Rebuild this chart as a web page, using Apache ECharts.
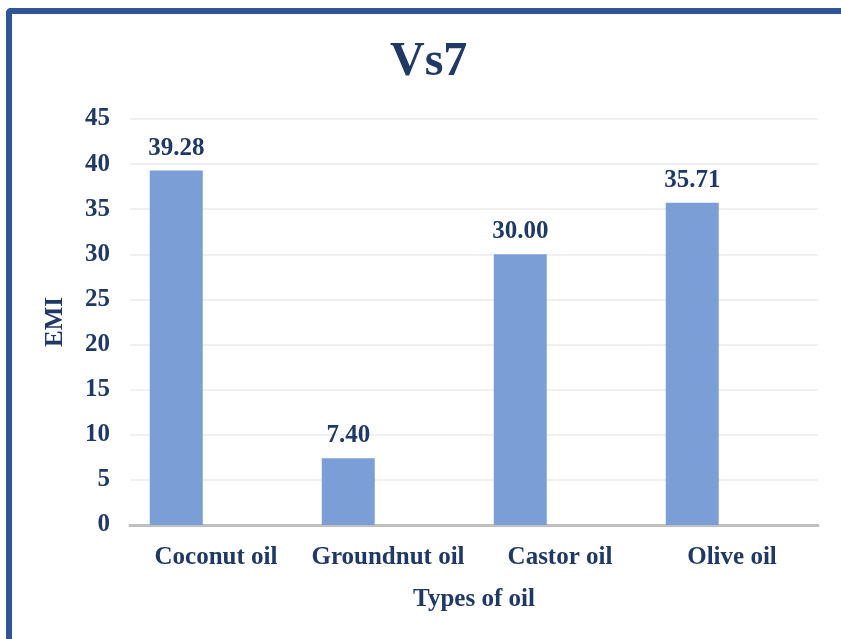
<!DOCTYPE html>
<html>
<head>
<meta charset="utf-8">
<script src="https://cdn.jsdelivr.net/npm/echarts@6/dist/echarts.min.js"></script>
<style>
  html, body { margin: 0; padding: 0; background: #fff; }
  #frame {
    position: absolute; left: 6px; top: 8px; width: 850px; height: 650px;
    border-left: 6px solid #2F5597; border-top: 6px solid #2F5597;
    border-top-left-radius: 5px; box-sizing: border-box;
  }
  #chart { position: absolute; left: 0; top: 0; width: 841px; height: 639px; }
</style>
</head>
<body>
<div id="frame"></div>
<div id="chart"></div>
<script>
// 数据
const oilTypes = ['Coconut oil', 'Groundnut oil', 'Castor oil', 'Olive oil'];
const emiValues = [39.28, 7.40, 30.00, 35.71];
const yTicks = [0, 5, 10, 15, 20, 25, 30, 35, 40, 45];

const navy = '#1F3864';
const serif = '"Liberation Serif", "Times New Roman", serif';

const chart = echarts.init(document.getElementById('chart'));

chart.setOption({
    animation: false,
    title: {
        text: 'Vs7',
        left: 385,
        top: 34,
        textStyle: { fontFamily: serif, fontWeight: 'bold', fontSize: 48, color: navy }
    },
    grid: { left: 130, right: 23, top: 119, bottom: 114 },
    xAxis: {
        type: 'category',
        data: oilTypes,
        name: 'Types of oil',
        nameLocation: 'middle',
        nameGap: 62,
        nameTextStyle: { fontFamily: serif, fontWeight: 'bold', fontSize: 25, color: navy },
        axisLine: { lineStyle: { color: '#BFBFBF', width: 3 } },
        axisTick: { show: false },
        axisLabel: { fontFamily: serif, fontWeight: 'bold', fontSize: 25, color: navy, margin: 20, interval: 0 }
    },
    yAxis: {
        type: 'value',
        min: yTicks[0],
        max: yTicks[yTicks.length - 1],
        interval: 5,
        name: 'EMI',
        nameLocation: 'middle',
        nameGap: 62,
        nameTextStyle: { fontFamily: serif, fontWeight: 'bold', fontSize: 25, color: navy },
        axisLine: { show: false },
        axisTick: { show: false },
        axisLabel: { fontFamily: serif, fontWeight: 'bold', fontSize: 25, color: navy, margin: 20 },
        splitLine: { lineStyle: { color: '#EBEBEB', width: 1.5 } }
    },
    series: [
        {
            name: 'EMI',
            type: 'bar',
            data: emiValues,
            barWidth: 53,
            barGap: '50%',
            itemStyle: { color: '#7C9ED6' },
            label: {
                show: true,
                position: 'top',
                distance: 10,
                formatter: p => p.value.toFixed(2),
                fontFamily: serif, fontWeight: 'bold', fontSize: 25, color: navy
            }
        },
        {
            // 空系列，占位让柱子靠左
            name: 'blank',
            type: 'bar',
            data: oilTypes.map(() => null),
            barWidth: 53
        }
    ]
});
</script>
</body>
</html>
